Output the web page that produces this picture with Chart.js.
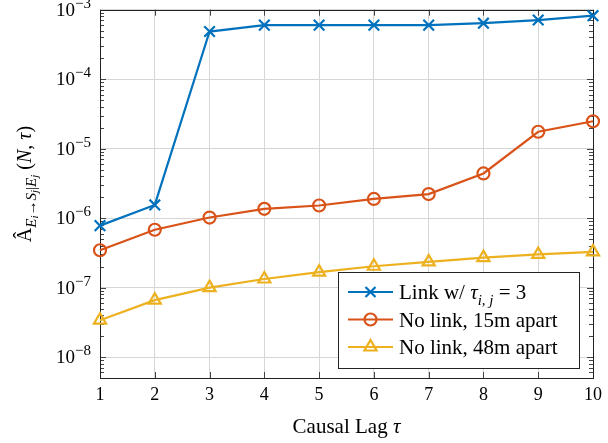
<!DOCTYPE html>
<html>
<head>
<meta charset="utf-8">
<script src="https://cdn.jsdelivr.net/npm/chart.js@4.4.1/dist/chart.umd.min.js"></script>
<style>
  html, body { margin: 0; padding: 0; background: #fff; }
  #wrap { width: 608px; height: 443px; }
</style>
</head>
<body>
<div id="wrap"><canvas id="lagChart"></canvas></div>
<script>
// causal lag values on the x axis
var lags = [1, 2, 3, 4, 5, 6, 7, 8, 9, 10];

// estimated influence for each setup
var linkTau3  = [7.8e-7, 1.55e-6, 4.85e-4, 6.0e-4, 6.0e-4, 6.0e-4, 6.0e-4, 6.4e-4, 7.1e-4, 8.2e-4];
var noLink15m = [3.45e-7, 6.8e-7, 1.02e-6, 1.36e-6, 1.52e-6, 1.89e-6, 2.22e-6, 4.4e-6, 1.75e-5, 2.48e-5];
var noLink48m = [3.4e-8, 6.6e-8, 1.0e-7, 1.33e-7, 1.67e-7, 2.03e-7, 2.35e-7, 2.7e-7, 3.0e-7, 3.27e-7];

// decade ticks on the y axis: 10 raised to these exponents
var yDecades   = [-8, -7, -6, -5, -4, -3];
var yExponents = ['−8', '−7', '−6', '−5', '−4', '−3'];

var SERIF = "'Liberation Serif', 'DejaVu Serif', serif";
var BLUE = '#0072bd', ORANGE = '#d95319', YELLOW = '#edb120';
var GRID = '#d6d6d6';

function decadeOf(v) {
  var e = Math.log10(v);
  return Math.abs(e - Math.round(e)) < 1e-6 ? Math.round(e) : null;
}

// draws a run of text pieces (font size, italic, baseline shift) left to right
function drawRuns(ctx, runs, x, y) {
  runs.forEach(function (r) {
    ctx.font = (r.it ? 'italic ' : '') + r.s + 'px ' + SERIF;
    ctx.fillText(r.t, x, y + (r.dy || 0));
    x += ctx.measureText(r.t).width;
  });
  return x;
}
function runsWidth(ctx, runs) {
  var w = 0;
  runs.forEach(function (r) {
    ctx.font = (r.it ? 'italic ' : '') + r.s + 'px ' + SERIF;
    w += ctx.measureText(r.t).width;
  });
  return w;
}

function drawMark(ctx, style, x, y, color) {
  ctx.save();
  ctx.strokeStyle = color;
  ctx.lineWidth = 2.2;
  ctx.beginPath();
  if (style === 'crossRot') {
    var d = 5;
    ctx.moveTo(x - d, y - d); ctx.lineTo(x + d, y + d);
    ctx.moveTo(x - d, y + d); ctx.lineTo(x + d, y - d);
  } else if (style === 'circle') {
    ctx.arc(x, y, 6, 0, Math.PI * 2);
  } else {
    var r = 7;
    ctx.moveTo(x, y - r);
    ctx.lineTo(x + r * 0.866, y + r * 0.5);
    ctx.lineTo(x - r * 0.866, y + r * 0.5);
    ctx.closePath();
  }
  ctx.stroke();
  ctx.restore();
}

// frame, inward tick marks, y tick labels and axis titles
var framePlugin = {
  id: 'frame',
  beforeDatasetsDraw: function (chart) {
    var ctx = chart.ctx, a = chart.chartArea;
    var xs = chart.scales.x, ys = chart.scales.y;
    ctx.save();
    ctx.strokeStyle = '#444';
    ctx.lineWidth = 1;
    ctx.beginPath();
    // minor and major ticks on left and right edges
    for (var e = -9; e <= -3; e++) {
      for (var k = 1; k <= 9; k++) {
        var v = k * Math.pow(10, e);
        if (v < ys.min || v > ys.max) continue;
        var py = Math.round(ys.getPixelForValue(v)) + 0.5;
        var len = k === 1 ? 6 : 4;
        ctx.moveTo(a.left, py); ctx.lineTo(a.left + len, py);
        ctx.moveTo(a.right, py); ctx.lineTo(a.right - len, py);
      }
    }
    lags.forEach(function (l, i) {
      var px = Math.round(xs.getPixelForValue(i)) + 0.5;
      ctx.moveTo(px, a.bottom); ctx.lineTo(px, a.bottom - 6);
      ctx.moveTo(px, a.top); ctx.lineTo(px, a.top + 6);
    });
    ctx.stroke();
    ctx.strokeStyle = '#222';
    ctx.strokeRect(Math.round(a.left) + 0.5, Math.round(a.top) + 0.5,
                   Math.round(a.right - a.left), Math.round(a.bottom - a.top));
    ctx.restore();
  },
  afterDraw: function (chart) {
    var ctx = chart.ctx, a = chart.chartArea, ys = chart.scales.y;
    ctx.save();
    ctx.fillStyle = '#000';
    ctx.textBaseline = 'alphabetic';

    // y tick labels 10^n, right aligned next to the axis
    yDecades.forEach(function (e, i) {
      var py = ys.getPixelForValue(Math.pow(10, e));
      var runs = [{ t: '10', s: 19 }, { t: yExponents[i], s: 15, dy: -8 }];
      var w = runsWidth(ctx, runs);
      drawRuns(ctx, runs, a.left - 9 - w, py + 6);
    });

    // x title
    var xRuns = [{ t: 'Causal Lag ', s: 21 }, { t: 'τ', s: 21, it: true }];
    var w = runsWidth(ctx, xRuns);
    drawRuns(ctx, xRuns, (a.left + a.right) / 2 - w / 2, 433);

    // y title, rotated
    var yRuns = [
      { t: 'Â', s: 20 },
      { t: 'E', s: 15, it: true, dy: 5 }, { t: 'i', s: 11, it: true, dy: 7 },
      { t: '→', s: 15, dy: 5 },
      { t: 'S', s: 15, it: true, dy: 5 }, { t: 'j', s: 11, it: true, dy: 7 },
      { t: '|', s: 15, dy: 5 },
      { t: 'E', s: 15, it: true, dy: 5 }, { t: 'j', s: 11, it: true, dy: 7 },
      { t: ' (', s: 20 }, { t: 'N', s: 20, it: true }, { t: ', ', s: 20 },
      { t: 'τ', s: 20, it: true }, { t: ')', s: 20 }
    ];
    var yw = runsWidth(ctx, yRuns);
    ctx.translate(31, 184);
    ctx.rotate(-Math.PI / 2);
    drawRuns(ctx, yRuns, -yw / 2, 0);
    ctx.restore();

    // legend box
    var bx = 338, by = 272, bw = 241, bh = 96;
    ctx.save();
    ctx.fillStyle = '#fff';
    ctx.fillRect(bx, by, bw, bh);
    ctx.strokeStyle = '#222';
    ctx.lineWidth = 1;
    ctx.strokeRect(bx + 0.5, by + 0.5, bw, bh);
    var rows = [
      { c: BLUE, m: 'crossRot', runs: [{ t: 'Link w/ ', s: 21 }, { t: 'τ', s: 21, it: true },
          { t: 'i, j', s: 15, it: true, dy: 6 }, { t: ' = 3', s: 21 }] },
      { c: ORANGE, m: 'circle', runs: [{ t: 'No link, 15m apart', s: 21 }] },
      { c: YELLOW, m: 'triangle', runs: [{ t: 'No link, 48m apart', s: 21 }] }
    ];
    rows.forEach(function (r, i) {
      var cy = 292 + i * 27.5;
      ctx.strokeStyle = r.c;
      ctx.lineWidth = 2.2;
      ctx.beginPath();
      ctx.moveTo(348, cy); ctx.lineTo(393, cy);
      ctx.stroke();
      drawMark(ctx, r.m, 370.5, cy, r.c);
      ctx.fillStyle = '#000';
      drawRuns(ctx, r.runs, 399, cy + 7);
    });
    ctx.restore();
  }
};

function series(data, color, style, radius) {
  return {
    data: data,
    borderColor: color,
    backgroundColor: 'rgba(0,0,0,0)',
    borderWidth: 2.2,
    pointStyle: style,
    pointRadius: radius,
    pointHoverRadius: radius,
    pointBorderWidth: 2.2,
    pointBorderColor: color,
    pointBackgroundColor: 'rgba(0,0,0,0)',
    tension: 0,
    clip: false
  };
}

new Chart(document.getElementById('lagChart'), {
  type: 'line',
  data: {
    labels: lags,
    datasets: [
      series(linkTau3, BLUE, 'crossRot', 7.5),
      series(noLink15m, ORANGE, 'circle', 6),
      series(noLink48m, YELLOW, 'triangle', 7)
    ]
  },
  options: {
    responsive: true,
    maintainAspectRatio: false,
    animation: false,
    layout: { padding: { top: 9, right: 9, left: 0, bottom: 0 } },
    plugins: {
      legend: { display: false },
      tooltip: { enabled: false }
    },
    scales: {
      x: {
        type: 'category',
        offset: false,
        border: { display: false },
        grid: { color: GRID, lineWidth: 1, drawTicks: false },
        ticks: {
          color: '#000', padding: 6, maxRotation: 0,
          font: { family: SERIF, size: 18 }
        },
        afterFit: function (s) { s.height = 65; }
      },
      y: {
        type: 'logarithmic',
        min: 5e-9,
        max: 1e-3,
        border: { display: false },
        grid: {
          drawTicks: false,
          color: function (c) {
            return c.tick && decadeOf(c.tick.value) !== null ? GRID : 'rgba(0,0,0,0)';
          }
        },
        ticks: { display: false },
        afterFit: function (s) { s.width = 100; }
      }
    }
  },
  plugins: [framePlugin]
});
</script>
</body>
</html>
